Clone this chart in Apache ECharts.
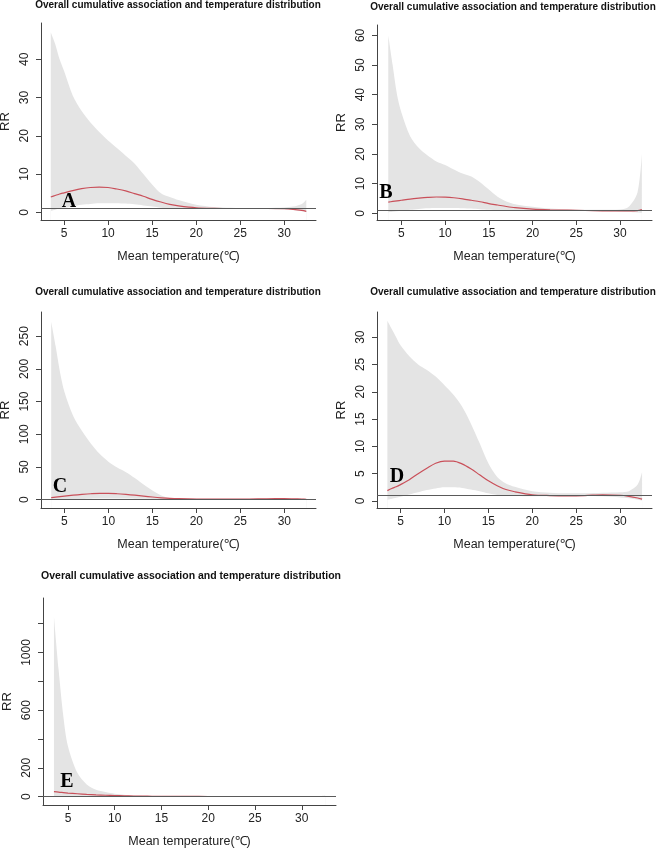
<!DOCTYPE html>
<html>
<head>
<meta charset="utf-8">
<script src="https://cdn.jsdelivr.net/npm/echarts@6/dist/echarts.min.js"></script>
<style>
  html, body { margin: 0; padding: 0; background: #fff; }
  #chart { width: 658px; height: 851px; }
</style>
</head>
<body>
<div id="chart"></div>
<script>
// mean temperature grid shared by all five panels
var temps = [3.5, 4, 4.5, 5, 6, 7, 8, 9, 10, 11, 12, 13, 14, 15, 16, 17, 18, 20, 22, 24, 26, 28, 30, 31, 32, 32.5];

// panel A
var rrA   = [4.0, 4.4, 4.8, 5.1, 5.7, 6.2, 6.5, 6.6, 6.5, 6.1, 5.6, 4.9, 4.2, 3.4, 2.7, 2.1, 1.7, 1.2, 1.05, 1.0, 1.0, 1.0, 0.95, 0.8, 0.5, 0.25];
var lowA  = [0.4, 0.7, 1.0, 1.2, 1.6, 2.0, 2.2, 2.4, 2.4, 2.4, 2.3, 2.1, 1.8, 1.5, 1.2, 1.0, 0.95, 0.9, 0.9, 0.95, 0.95, 0.9, 0.8, 0.6, 0.3, 0.1];
var highA = [47, 44, 40, 37, 30.5, 26.5, 23.5, 21, 18.8, 16.8, 14.8, 12.8, 10, 7.3, 5.0, 4.0, 3.2, 2.0, 1.4, 1.2, 1.1, 1.15, 1.3, 1.5, 2.2, 3.3];

// panel B
var rrB   = [3.8, 4.0, 4.2, 4.4, 4.8, 5.1, 5.35, 5.5, 5.45, 5.25, 4.9, 4.4, 3.9, 3.3, 2.8, 2.3, 1.9, 1.45, 1.2, 1.05, 0.95, 0.85, 0.8, 0.8, 0.9, 1.3];
var lowB  = [0.3, 0.5, 0.7, 0.9, 1.2, 1.5, 1.7, 1.8, 1.8, 1.8, 1.7, 1.6, 1.4, 1.2, 1.05, 0.95, 0.9, 0.85, 0.85, 0.85, 0.8, 0.7, 0.55, 0.45, 0.3, 0.2];
var highB = [60, 50, 40, 34, 26, 22, 19.5, 17.5, 16.3, 14.8, 13.4, 12.4, 10.5, 8, 5.6, 4, 3.1, 2.2, 1.6, 1.3, 1.2, 1.2, 1.3, 2.2, 7, 20];

// panel C
var rrC   = [3, 3.8, 4.6, 5.4, 6.8, 8.0, 9.0, 9.6, 9.6, 9.0, 8.0, 6.8, 5.4, 4.0, 2.8, 1.9, 1.4, 1.0, 0.95, 0.95, 1.0, 1.3, 1.5, 1.2, 0.8, 0.6];
var lowC  = [0.05, 0.1, 0.2, 0.3, 0.6, 1.0, 1.4, 1.6, 1.7, 1.7, 1.6, 1.4, 1.2, 1.0, 0.8, 0.7, 0.7, 0.7, 0.75, 0.8, 0.8, 0.9, 1.0, 0.8, 0.5, 0.3];
var highC = [272, 235, 195, 165, 128, 105, 86, 70, 58, 49, 42, 33, 23, 14, 6.5, 2.5, 2, 1.5, 1.3, 1.2, 1.3, 1.6, 1.8, 1.5, 1.2, 1.0];

// panel D
var rrD   = [1.9, 2.3, 2.6, 3.0, 3.9, 5.0, 6.0, 6.9, 7.3, 7.3, 6.8, 5.9, 4.8, 3.7, 2.8, 2.1, 1.7, 1.15, 1.0, 0.95, 1.0, 1.15, 1.05, 0.85, 0.55, 0.35];
var lowD  = [0.2, 0.4, 0.6, 0.8, 1.2, 1.6, 2.0, 2.3, 2.5, 2.5, 2.4, 2.1, 1.8, 1.4, 1.1, 0.95, 0.9, 0.85, 0.85, 0.85, 0.9, 0.85, 0.65, 0.5, 0.25, 0.1];
var highD = [33, 31.5, 30, 28.5, 26.5, 25, 24, 22.8, 21.2, 19.5, 17.3, 14.2, 10.6, 6.9, 4.4, 3.2, 2.6, 1.8, 1.5, 1.4, 1.4, 1.5, 1.6, 1.8, 3, 5.3];

// panel E
var rrE   = [35, 31, 28, 25, 20, 15.5, 12, 9.5, 7.5, 6, 4.5, 3.5, 2.8, 2.2, 1.8, 1.5, 1.3, 1.1, 1.0, 1.0, 1.0, 1.0, 1.0, 1.0, 1.0, 1.0];
var lowE  = [1.0, 1.0, 1.0, 1.1, 1.2, 1.3, 1.3, 1.3, 1.3, 1.2, 1.1, 1.0, 0.95, 0.9, 0.9, 0.9, 0.9, 0.9, 0.9, 0.9, 0.9, 0.9, 0.9, 0.8, 0.6, 0.5];
var highE = [1250, 880, 560, 350, 165, 85, 48, 32, 20, 13, 8, 5, 3.5, 2.5, 2, 1.8, 1.6, 1.4, 1.3, 1.2, 1.2, 1.3, 1.5, 2, 4, 8];

// tick labels
var xTicks  = [5, 10, 15, 20, 25, 30];
var yTicksA = [0, 10, 20, 30, 40];
var yTicksB = [0, 10, 20, 30, 40, 50, 60];
var yTicksC = [0, 50, 100, 150, 200, 250];
var yTicksD = [0, 5, 10, 15, 20, 25, 30];
var yTicksE = [0, 200, 400, 600, 800, 1000, 1200];
var yLabelsE = [0, 200, 600, 1000];

var titleText = 'Overall cumulative association and temperature distribution';
var xName = 'Mean temperature(\u2103)';
var FONT = '"Liberation Sans", Arial, sans-serif';

var panels = [
  { letter: 'A', rr: rrA, low: lowA, high: highA, yTicks: yTicksA, yLabels: yTicksA,
    grid: { left: 41, top: 23, width: 275, height: 197 }, xr: [2.39, 33.6], yr: [-2.0, 49.5],
    titleX: 178, titleY: 0, titleSize: 10, letterPos: [69, 202] },
  { letter: 'B', rr: rrB, low: lowB, high: highB, yTicks: yTicksB, yLabels: yTicksB,
    grid: { left: 377, top: 25, width: 275, height: 195 }, xr: [2.21, 33.66], yr: [-2.25, 63.5],
    titleX: 513, titleY: 2, titleSize: 10, letterPos: [386, 193] },
  { letter: 'C', rr: rrC, low: lowC, high: highC, yTicks: yTicksC, yLabels: yTicksC,
    grid: { left: 41, top: 312, width: 275, height: 196 }, xr: [2.34, 33.6], yr: [-12.8, 287],
    titleX: 178, titleY: 287, titleSize: 10, letterPos: [60, 487] },
  { letter: 'D', rr: rrD, low: lowD, high: highD, yTicks: yTicksD, yLabels: yTicksD,
    grid: { left: 377, top: 312, width: 275, height: 196 }, xr: [2.32, 33.63], yr: [-1.28, 34.6],
    titleX: 513, titleY: 287, titleSize: 10, letterPos: [397, 477] },
  { letter: 'E', rr: rrE, low: lowE, high: highE, yTicks: yTicksE, yLabels: yLabelsE,
    grid: { left: 43, top: 598, width: 293, height: 207 }, xr: [2.33, 33.66], yr: [-58, 1378],
    titleX: 191, titleY: 571, titleSize: 10.5, letterPos: [67, 782] }
];

function pairs(xs, ys) {
  return xs.map(function (x, i) { return [x, ys[i]]; });
}

var option = {
  animation: false,
  backgroundColor: '#fff',
  textStyle: { fontFamily: FONT },
  title: [],
  grid: [],
  xAxis: [],
  yAxis: [],
  series: [],
  graphic: []
};

panels.forEach(function (p, i) {
  option.title.push({
    text: titleText,
    left: p.titleX,
    top: p.titleY,
    textAlign: 'center',
    padding: 0,
    textStyle: { fontSize: p.titleSize, fontWeight: 'bold', color: '#111', fontFamily: FONT }
  });
  // keep the grid exactly where it is set, labels may hang outside
  option.grid.push(Object.assign({ containLabel: false, outerBoundsMode: 'none' }, p.grid));
  option.xAxis.push({
    type: 'value', gridIndex: i, min: p.xr[0], max: p.xr[1],
    name: xName, nameLocation: 'middle', nameGap: 30,
    nameTextStyle: { fontSize: 12.5, color: '#222', fontFamily: FONT },
    axisLine: { show: true, onZero: false, lineStyle: { color: '#444', width: 1 } },
    axisTick: { show: true, length: 5, customValues: xTicks, lineStyle: { color: '#444' } },
    axisLabel: { customValues: xTicks, fontSize: 12, color: '#222', margin: 8, fontFamily: FONT },
    splitLine: { show: false }
  });
  option.yAxis.push({
    type: 'value', gridIndex: i, min: p.yr[0], max: p.yr[1],
    name: 'RR', nameLocation: 'middle', nameGap: 29, nameRotate: 90,
    nameTextStyle: { fontSize: 13, color: '#222', fontFamily: FONT },
    axisLine: { show: true, onZero: false, lineStyle: { color: '#444', width: 1 } },
    axisTick: { show: true, length: 5, customValues: p.yTicks, lineStyle: { color: '#444' } },
    axisLabel: {
      customValues: p.yLabels, rotate: 90, fontSize: 12, color: '#222', margin: 10, fontFamily: FONT,
      formatter: function (v) { return String(v); }
    },
    splitLine: { show: false }
  });

  // confidence band: grey area up to the upper bound, covered in white below the lower bound
  option.series.push({
    type: 'line', xAxisIndex: i, yAxisIndex: i,
    data: pairs(temps, p.high), smooth: 0.3, showSymbol: false, silent: true,
    lineStyle: { width: 0, opacity: 0 },
    areaStyle: { color: '#e4e4e4', opacity: 1, origin: 'start' }, z: 1
  });
  option.series.push({
    type: 'line', xAxisIndex: i, yAxisIndex: i,
    data: pairs(temps, p.low), smooth: 0.3, showSymbol: false, silent: true,
    lineStyle: { width: 0, opacity: 0 },
    areaStyle: { color: '#ffffff', opacity: 1, origin: 'start' }, z: 2
  });
  option.series.push({
    type: 'line', xAxisIndex: i, yAxisIndex: i,
    data: pairs(temps, p.rr), smooth: 0.3, showSymbol: false, silent: true,
    lineStyle: { color: '#c9505a', width: 1.2 }, z: 4,
    markLine: {
      silent: true, symbol: ['none', 'none'], label: { show: false },
      lineStyle: { color: '#5a5a5a', width: 1, type: 'solid' },
      data: [{ yAxis: 1 }]
    }
  });

  option.graphic.push({
    type: 'text', x: p.letterPos[0], y: p.letterPos[1], z: 10,
    style: {
      text: p.letter, fill: '#000', align: 'center', verticalAlign: 'middle',
      font: 'bold 20px "Liberation Serif", "Times New Roman", serif'
    }
  });
});

var myChart = echarts.init(document.getElementById('chart'), null, { renderer: 'canvas' });
myChart.setOption(option);
</script>
</body>
</html>
